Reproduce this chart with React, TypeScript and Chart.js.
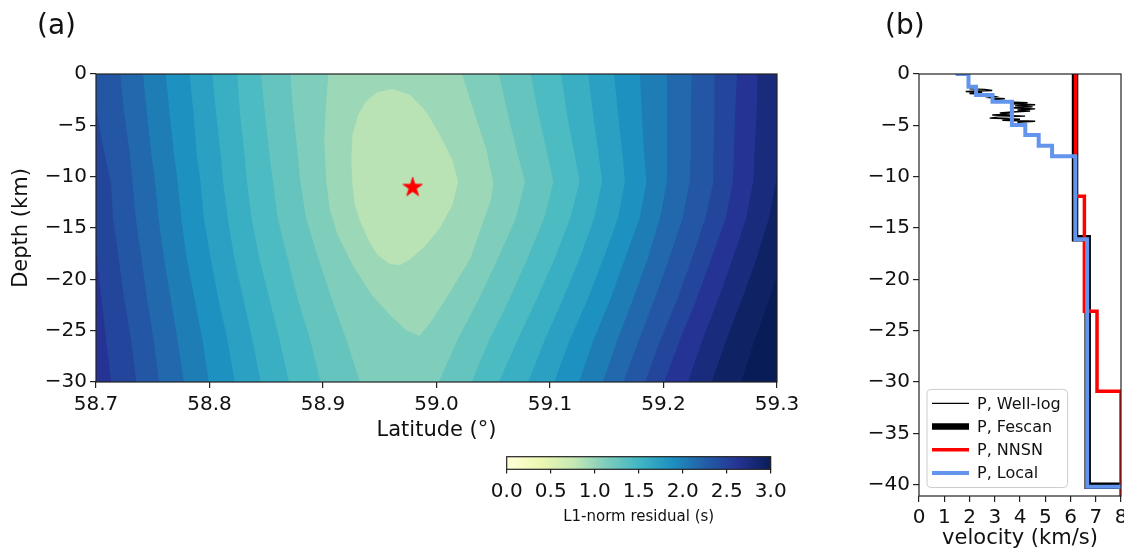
import React, { useEffect, useRef } from 'react';
import { Chart, registerables } from 'chart.js';

Chart.register(...registerables);
Chart.defaults.font.family = '"DejaVu Sans", sans-serif';

// ---------------- Panel (a): L1-norm residual map ----------------
const latTicks = [58.7, 58.8, 58.9, 59.0, 59.1, 59.2, 59.3];
const depthTicksA = [0, -5, -10, -15, -20, -25, -30];
const colorbarTicks = [0, 0.5, 1.0, 1.5, 2.0, 2.5, 3.0];
const residualMax = 3.0;
const bandHalfStep = 0.075;

// contour levels (s) of the boundaries C1..C15 (C1 = innermost)
const contourLevels = [0.9, 1.05, 1.2, 1.35, 1.5, 1.65, 1.8, 1.95, 2.1, 2.25, 2.4, 2.55, 2.7, 2.85, 3.0];

// closed contour C1 around the minimum
const c1Lat = [58.961, 58.977, 58.991, 59.003, 59.014, 59.019, 59.014, 59.003, 58.990, 58.977, 58.968,
  58.959, 58.948, 58.940, 58.933, 58.928, 58.926, 58.925, 58.926, 58.931, 58.938, 58.948];
const c1Depth = [-1.46, -2.05, -3.70, -5.94, -8.38, -10.52, -12.76, -15.0, -16.75, -18.02, -18.60,
  -18.51, -17.63, -16.17, -14.42, -12.76, -10.81, -8.38, -5.94, -3.99, -2.63, -1.75];

// contour C2 (open at the surface, closed at depth)
const c2Lat = [58.905, 58.903, 58.901, 58.903, 58.906, 58.913, 58.926, 58.943, 58.959, 58.973, 58.985,
  58.995, 59.012, 59.030, 59.040, 59.048, 59.050, 59.044, 59.034, 59.021];
const c2Depth = [0.5, -2.53, -6.43, -10.52, -13.25, -15.68, -18.60, -21.53, -23.47, -24.93, -25.52,
  -24.16, -21.23, -17.92, -14.71, -12.27, -10.62, -7.40, -3.99, 0.5];

// depths at which the open contours C3..C15 were read
const branchDepths = [0.5, -4, -8, -10.5, -14, -18, -22, -26, -30.5];

// latitude of the western branch of C3..C15
const leftBranchLat = [
  [58.871, 58.874, 58.878, 58.880, 58.885, 58.896, 58.908, 58.921, 58.934],
  [58.845, 58.849, 58.853, 58.856, 58.860, 58.869, 58.878, 58.889, 58.899],
  [58.824, 58.827, 58.831, 58.833, 58.837, 58.844, 58.853, 58.862, 58.871],
  [58.802, 58.806, 58.810, 58.812, 58.816, 58.822, 58.830, 58.838, 58.846],
  [58.782, 58.786, 58.789, 58.792, 58.795, 58.801, 58.808, 58.816, 58.823],
  [58.761, 58.765, 58.769, 58.772, 58.775, 58.780, 58.787, 58.794, 58.800],
  [58.741, 58.745, 58.749, 58.752, 58.755, 58.760, 58.766, 58.772, 58.778],
  [58.721, 58.725, 58.730, 58.732, 58.735, 58.740, 58.745, 58.751, 58.756],
  [58.693, 58.701, 58.708, 58.713, 58.715, 58.720, 58.725, 58.731, 58.736],
  [58.679, 58.685, 58.691, 58.695, 58.697, 58.701, 58.705, 58.709, 58.714],
  [58.660, 58.660, 58.660, 58.660, 58.660, 58.660, 58.660, 58.660, 58.660],
  [58.650, 58.650, 58.650, 58.650, 58.650, 58.650, 58.650, 58.650, 58.650],
  [58.640, 58.640, 58.640, 58.640, 58.640, 58.640, 58.640, 58.640, 58.640],
];
// latitude of the eastern branch of C3..C15
const rightBranchLat = [
  [59.054, 59.063, 59.072, 59.078, 59.070, 59.054, 59.037, 59.018, 59.000],
  [59.082, 59.090, 59.098, 59.103, 59.095, 59.080, 59.064, 59.046, 59.029],
  [59.109, 59.115, 59.122, 59.126, 59.118, 59.104, 59.088, 59.071, 59.053],
  [59.133, 59.138, 59.143, 59.146, 59.139, 59.126, 59.111, 59.095, 59.079],
  [59.156, 59.160, 59.164, 59.166, 59.160, 59.147, 59.133, 59.117, 59.102],
  [59.179, 59.181, 59.183, 59.185, 59.179, 59.166, 59.153, 59.138, 59.124],
  [59.203, 59.203, 59.203, 59.203, 59.197, 59.186, 59.173, 59.159, 59.145],
  [59.225, 59.224, 59.224, 59.223, 59.217, 59.205, 59.192, 59.178, 59.163],
  [59.245, 59.245, 59.244, 59.244, 59.237, 59.225, 59.212, 59.197, 59.182],
  [59.265, 59.263, 59.262, 59.261, 59.255, 59.242, 59.229, 59.214, 59.199],
  [59.283, 59.282, 59.280, 59.279, 59.273, 59.261, 59.248, 59.234, 59.220],
  [59.311, 59.307, 59.302, 59.299, 59.293, 59.282, 59.269, 59.255, 59.241],
  [59.333, 59.328, 59.323, 59.320, 59.315, 59.304, 59.293, 59.280, 59.267],
];

// best location (star)
const bestLat = [58.979];
const bestDepth = [-11.05];

// ---------------- Panel (b): velocity models ----------------
const velTicks = [0, 1, 2, 3, 4, 5, 6, 7, 8];
const depthTicksB = [0, -5, -10, -15, -20, -25, -30, -35, -40];

const wellLogDepth = [-1.45, -1.5, -1.6, -1.7, -1.8, -1.9, -2.0, -2.1, -2.2, -2.3, -2.4, -2.5, -2.6, -2.7, -2.8,
  -2.9, -3.0, -3.1, -3.2, -3.3, -3.4, -3.5, -3.6, -3.7, -3.8, -3.9, -4.0, -4.1, -4.2, -4.3, -4.4, -4.5, -4.6, -4.7];
const wellLogVel = [2.0, 2.6, 2.9, 1.85, 2.5, 2.0, 2.8, 2.5, 3.0, 2.8, 3.4, 2.9, 3.5, 3.2, 4.3,
  3.6, 4.6, 3.8, 4.5, 3.6, 4.6, 3.9, 4.4, 3.7, 3.2, 3.6, 2.9, 4.2, 3.1, 2.8, 4.0, 3.3, 4.6, 3.9];

const fescanVel = [6.18, 6.18, 6.68, 8.3];
const fescanDepth = [0, -16.0, -40.1, -42];

const nnsnVel = [6.2, 6.2, 6.55, 7.05, 8.0];
const nnsnDepth = [0, -11.9, -23.1, -30.9, -42];

const localVel = [1.45, 1.96, 2.26, 2.91, 3.68, 4.21, 4.74, 5.27, 6.19, 6.66, 8.3];
const localDepth = [0, -1.25, -2.05, -2.7, -4.97, -5.94, -7.0, -8.0, -16.1, -40.2, -42];

// ---------------- helpers ----------------
const YLGNBU = ['#ffffd9', '#edf8b1', '#c7e9b4', '#7fcdbb', '#41b6c4', '#1d91c0', '#225ea8', '#253494', '#081d58'];
function hexToRgb(h: string): number[] {
  return [parseInt(h.slice(1, 3), 16), parseInt(h.slice(3, 5), 16), parseInt(h.slice(5, 7), 16)];
}
function ylgnbu(t: number): string {
  const tt = Math.min(1, Math.max(0, t));
  const n = YLGNBU.length - 1;
  const p = tt * n;
  const i = Math.min(Math.floor(p), n - 1);
  const f = p - i;
  const a = hexToRgb(YLGNBU[i]);
  const b = hexToRgb(YLGNBU[i + 1]);
  const c = a.map((v, k) => Math.round(v + (b[k] - v) * f));
  return `rgb(${c[0]},${c[1]},${c[2]})`;
}
const minusFmt = (v: any) => {
  const n = Number(v);
  return n < 0 ? '\u2212' + Math.abs(n) : String(n);
};
const INK = '#111111';
const SPINE = '#222222';

function makeStar(): HTMLCanvasElement {
  const c = document.createElement('canvas');
  c.width = 24; c.height = 24;
  const g = c.getContext('2d')!;
  const R = 10.2, r = R * 0.382;
  g.translate(12, 12);
  g.beginPath();
  for (let k = 0; k < 10; k++) {
    const ang = -Math.PI / 2 + (k * Math.PI) / 5;
    const rad = k % 2 === 0 ? R : r;
    const x = rad * Math.cos(ang), y = rad * Math.sin(ang);
    if (k === 0) g.moveTo(x, y); else g.lineTo(x, y);
  }
  g.closePath();
  g.fillStyle = '#ff0000';
  g.fill();
  g.strokeStyle = '#ff0000';
  g.lineWidth = 0.8;
  g.stroke();
  return c;
}

const framePlugin = {
  id: 'frame',
  afterDraw(chart: any) {
    const { ctx, chartArea: a } = chart;
    ctx.save();
    ctx.strokeStyle = SPINE;
    ctx.lineWidth = 1.2;
    ctx.strokeRect(a.left, a.top, a.right - a.left, a.bottom - a.top);
    ctx.restore();
  },
};

function axisCommon(ticksArr: number[], fmt: (v: any) => string, fontSize: number, tickLen: number, pad: number) {
  return {
    afterBuildTicks: (ax: any) => { ax.ticks = ticksArr.map((v) => ({ value: v })); },
    ticks: { callback: fmt, font: { size: fontSize }, color: INK, padding: pad, autoSkip: false, maxRotation: 0 },
    grid: { drawOnChartArea: false, drawTicks: true, tickLength: tickLen, color: SPINE, tickColor: SPINE, lineWidth: 1.2 },
    border: { display: false },
  };
}

function buildPanelA(canvas: HTMLCanvasElement) {
  const polys: { lat: number[]; depth: number[] }[] = [
    { lat: c1Lat, depth: c1Depth },
    { lat: c2Lat, depth: c2Depth },
  ];
  leftBranchLat.forEach((left, i) => {
    polys.push({
      lat: [...left, ...rightBranchLat[i].slice().reverse()],
      depth: [...branchDepths, ...branchDepths.slice().reverse()],
    });
  });
  const contourSets = polys.map((p, j) => ({
    label: `residual < ${contourLevels[j].toFixed(2)} s`,
    data: p.lat.map((x, i) => ({ x, y: p.depth[i] })),
    showLine: true,
    fill: 'shape',
    backgroundColor: ylgnbu((contourLevels[j] - bandHalfStep) / residualMax),
    borderColor: 'rgba(0,0,0,0)',
    borderWidth: 0,
    pointRadius: 0,
    pointHoverRadius: 0,
    tension: 0,
  }));
  const starSet = {
    label: 'best location',
    data: bestLat.map((x, i) => ({ x, y: bestDepth[i] })),
    showLine: false,
    pointStyle: makeStar(),
    pointRadius: 10,
  };
  const bgPlugin = {
    id: 'bgA',
    beforeDraw(chart: any) {
      const { ctx, chartArea: a } = chart;
      ctx.save();
      ctx.fillStyle = ylgnbu(1);
      ctx.fillRect(a.left, a.top, a.right - a.left, a.bottom - a.top);
      ctx.restore();
    },
  };
  return new Chart(canvas, {
    type: 'scatter',
    data: { datasets: [starSet, ...contourSets] as any },
    options: {
      animation: false,
      responsive: false,
      events: [],
      layout: { padding: { left: 5, top: 74, right: 43, bottom: 102 } },
      plugins: { legend: { display: false }, tooltip: { enabled: false } },
      scales: {
        x: {
          type: 'linear', min: 58.7, max: 59.3,
          ...axisCommon(latTicks, (v: any) => Number(v).toFixed(1), 20, 6, 5),
          afterFit: (ax: any) => { ax.height = 65; },
          title: { display: true, text: 'Latitude (°)', font: { size: 21 }, color: INK, padding: { top: 0, bottom: 4 } },
        },
        y: {
          type: 'linear', min: -30, max: 0,
          ...axisCommon(depthTicksA, minusFmt, 20, 6, 3),
          afterFit: (ax: any) => { ax.width = 91; },
          title: { display: true, text: 'Depth (km)', font: { size: 21 }, color: INK, padding: { top: 4, bottom: 0 } },
        },
      } as any,
    },
    plugins: [bgPlugin, framePlugin],
  } as any);
}

function buildPanelB(canvas: HTMLCanvasElement) {
  const legendPlugin = {
    id: 'mplLegend',
    afterDraw(chart: any) {
      const { ctx, chartArea: a } = chart;
      const ds = chart.data.datasets;
      ctx.save();
      ctx.font = '16px "DejaVu Sans", sans-serif';
      const textW = Math.max(...ds.map((d: any) => ctx.measureText(d.label).width));
      const padL = 5, lineLen = 37, gap = 8, padR = 7, rowH = 23.2, padT = 14, padB = 14.5;
      const w = padL + lineLen + gap + textW + padR;
      const h = padT + rowH * (ds.length - 1) + padB;
      const x0 = a.left + 8, y0 = a.bottom - 8.5 - h;
      const rr = 4;
      ctx.beginPath();
      ctx.moveTo(x0 + rr, y0);
      ctx.arcTo(x0 + w, y0, x0 + w, y0 + h, rr);
      ctx.arcTo(x0 + w, y0 + h, x0, y0 + h, rr);
      ctx.arcTo(x0, y0 + h, x0, y0, rr);
      ctx.arcTo(x0, y0, x0 + w, y0, rr);
      ctx.closePath();
      ctx.fillStyle = 'rgba(255,255,255,0.8)';
      ctx.fill();
      ctx.strokeStyle = '#cccccc';
      ctx.lineWidth = 1;
      ctx.stroke();
      ds.forEach((d: any, i: number) => {
        const y = y0 + padT + i * rowH;
        ctx.strokeStyle = d.borderColor;
        ctx.lineWidth = d.borderWidth;
        ctx.beginPath();
        ctx.moveTo(x0 + padL, y);
        ctx.lineTo(x0 + padL + lineLen, y);
        ctx.stroke();
        ctx.fillStyle = INK;
        ctx.textBaseline = 'middle';
        ctx.textAlign = 'left';
        ctx.fillText(d.label, x0 + padL + lineLen + gap, y + 1);
      });
      ctx.restore();
    },
  };
  const mk = (vel: number[], dep: number[]) => vel.map((x, i) => ({ x, y: dep[i] }));
  return new Chart(canvas, {
    type: 'scatter',
    data: {
      datasets: [
        { label: 'P, Well-log', data: mk(wellLogVel, wellLogDepth), showLine: true, borderColor: '#000000', borderWidth: 1.4, pointRadius: 0, order: 4 },
        { label: 'P, Fescan', data: mk(fescanVel, fescanDepth), showLine: true, stepped: true, borderColor: '#000000', borderWidth: 6.5, pointRadius: 0, order: 3 },
        { label: 'P, NNSN', data: mk(nnsnVel, nnsnDepth), showLine: true, stepped: true, borderColor: '#ff0000', borderWidth: 3.5, pointRadius: 0, order: 2 },
        { label: 'P, Local', data: mk(localVel, localDepth), showLine: true, stepped: true, borderColor: '#6495ed', borderWidth: 4, pointRadius: 0, order: 1 },
      ] as any,
    },
    options: {
      animation: false,
      responsive: false,
      events: [],
      layout: { padding: { left: 0, top: 74, right: 39, bottom: 5 } },
      plugins: { legend: { display: false }, tooltip: { enabled: false } },
      scales: {
        x: {
          type: 'linear', min: 0, max: 8,
          ...axisCommon(velTicks, (v: any) => String(v), 20, 6, 4),
          afterFit: (ax: any) => { ax.height = 59; },
          title: { display: true, text: 'velocity (km/s)', font: { size: 21 }, color: INK, padding: { top: 0, bottom: 4 } },
        },
        y: {
          type: 'linear', min: -41.1, max: 0,
          ...axisCommon(depthTicksB, minusFmt, 20, 6, 3),
          afterFit: (ax: any) => { ax.width = 89; },
        },
      } as any,
    },
    plugins: [framePlugin, legendPlugin],
  } as any);
}

function buildColorbar(canvas: HTMLCanvasElement) {
  const gradPlugin = {
    id: 'cbGradient',
    beforeDraw(chart: any) {
      const { ctx, chartArea: a } = chart;
      const g = ctx.createLinearGradient(a.left, 0, a.right, 0);
      YLGNBU.forEach((c, i) => g.addColorStop(i / (YLGNBU.length - 1), c));
      ctx.save();
      ctx.fillStyle = g;
      ctx.fillRect(a.left, a.top, a.right - a.left, a.bottom - a.top);
      ctx.restore();
    },
  };
  return new Chart(canvas, {
    type: 'scatter',
    data: { datasets: [] },
    options: {
      animation: false,
      responsive: false,
      events: [],
      layout: { padding: { left: 36.7, top: 16.7, right: 39.3, bottom: 10.3 } },
      plugins: { legend: { display: false }, tooltip: { enabled: false } },
      scales: {
        x: {
          type: 'linear', min: 0, max: residualMax,
          ...axisCommon(colorbarTicks, (v: any) => Number(v).toFixed(1), 20, 4.3, 6),
          afterFit: (ax: any) => { ax.height = 60.4; },
          title: { display: true, text: 'L1-norm residual (s)', font: { size: 15 }, color: INK, padding: { top: 0, bottom: 4 } },
        },
        y: { display: false, min: 0, max: 1 },
      } as any,
    },
    plugins: [gradPlugin, framePlugin],
  } as any);
}

export default function App() {
  const refA = useRef<HTMLCanvasElement>(null);
  const refB = useRef<HTMLCanvasElement>(null);
  const refC = useRef<HTMLCanvasElement>(null);

  useEffect(() => {
    const charts: Chart[] = [];
    if (refA.current) charts.push(buildPanelA(refA.current));
    if (refB.current) charts.push(buildPanelB(refB.current));
    if (refC.current) charts.push(buildColorbar(refC.current));
    return () => charts.forEach((c) => c.destroy());
  }, []);

  const labelStyle: React.CSSProperties = {
    position: 'absolute', fontFamily: '"DejaVu Sans", sans-serif', fontSize: 28, lineHeight: '28px', color: INK,
  };

  return (
    <div style={{ position: 'absolute', left: 0, top: 0, width: 1124, height: 549, overflow: 'hidden', background: '#ffffff' }}>
      <canvas ref={refA} width={820} height={549} style={{ position: 'absolute', left: 0, top: 0, width: 820, height: 549 }} />
      <canvas ref={refC} width={340} height={100} style={{ position: 'absolute', left: 470, top: 440, width: 340, height: 100 }} />
      <canvas ref={refB} width={330} height={560} style={{ position: 'absolute', left: 830, top: 0, width: 330, height: 560 }} />
      <div style={{ ...labelStyle, left: 37, top: 11 }}>(a)</div>
      <div style={{ ...labelStyle, left: 885, top: 11 }}>(b)</div>
    </div>
  );
}
